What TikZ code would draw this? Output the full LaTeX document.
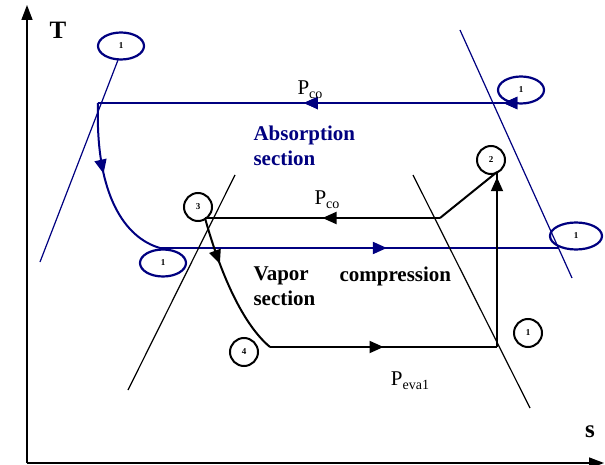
\documentclass[tikz,border=0pt]{standalone}
\usepackage{fontspec}
\setmainfont{Liberation Serif}
\usetikzlibrary{arrows.meta, decorations.markings, shapes.geometric}
\definecolor{navy}{RGB}{0,0,128}
\newcommand{\Psub}[1]{P\raisebox{-4pt}{\fontsize{14}{14}\selectfont #1}}
\tikzset{
  midarrow/.style={postaction={decorate}, decoration={markings,
    mark=at position #1 with {\arrow{Triangle[length=14pt,width=12pt]}}}},
  process/.style={line width=2pt},
  bound/.style={line width=1.2pt},
  ovalstate/.style={draw=navy, ellipse, line width=2.2pt, inner sep=0pt,
    minimum width=46pt, minimum height=27pt, font=\fontsize{9}{9}\selectfont\bfseries},
  roundstate/.style={draw, circle, line width=2pt, inner sep=0pt,
    minimum size=28pt, font=\fontsize{9}{9}\selectfont\bfseries},
  bigtext/.style={font=\fontsize{21}{25}\selectfont\bfseries, align=left, anchor=west},
  plabel/.style={font=\fontsize{21}{21}\selectfont}
}
\begin{document}
\begin{tikzpicture}[x=1pt,y=-1pt]
  \useasboundingbox (0,0) rectangle (605,465);
  % axes
  \draw[line width=1.5pt, -{Triangle[length=15pt,width=11pt]}] (27,463) -- (27,5);
  \draw[line width=1.5pt, -{Triangle[length=15pt,width=11pt]}] (27,463) -- (604,463);
  \node[font=\fontsize{25}{25}\selectfont\bfseries] (tlab) at (58,30) {T};
  \node[font=\fontsize{25}{25}\selectfont\bfseries] (slab) at (590,432) {s};
  % absorption cycle
  \coordinate (a1) at (98,103);
  \coordinate (a2) at (518,103);
  \coordinate (a3) at (160,248);
  \coordinate (a4) at (558,248);
  \draw[navy, bound] (40,262) -- (118,60);
  \draw[navy, bound] (460,30) -- (572,278);
  \draw[navy, process, midarrow=0.035, midarrow=0.51] (a2) -- (a1);
  \draw[navy, process, midarrow=0.42] (a1) .. controls (95,195) and (125,238) .. (a3);
  \draw[navy, process, midarrow=0.57] (a3) -- (a4);
  \node[ovalstate] (o1) at (121,46) {1};
  \node[ovalstate] (o2) at (521,90) {1};
  \node[ovalstate] (o3) at (163,263) {1};
  \node[ovalstate, minimum width=52pt] (o4) at (576,236) {1};
  \node[plabel] (pco1) at (310,90) {\Psub{co}};
  \node[bigtext, navy] (abs) at (250,146) {Absorption\\section};
  % vapor compression cycle
  \coordinate (b1) at (497,347);
  \coordinate (b2) at (497,172);
  \coordinate (b3) at (205,218);
  \coordinate (b4) at (270,347);
  \coordinate (bk) at (440,218);
  \draw[bound] (128,390) -- (235,175);
  \draw[bound] (413,175) -- (530,408);
  \draw[process, midarrow=0.97] (b1) -- (b2);
  \draw[process] (b2) -- (bk);
  \draw[process, midarrow=0.5] (bk) -- (b3);
  \draw[process, midarrow=0.33] (b3) .. controls (218,265) and (240,322) .. (b4);
  \draw[process, midarrow=0.5] (b4) -- (b1);
  \node[roundstate] (c3) at (198,207) {3};
  \node[roundstate] (c2) at (491,160) {2};
  \node[roundstate] (c4) at (244,352) {4};
  \node[roundstate] (c1) at (528,333) {1};
  \node[plabel] (pco2) at (327,200) {\Psub{co}};
  \node[plabel] (peva) at (410,381) {\Psub{eva1}};
  \node[bigtext] (vap) at (250,286) {Vapor\\section};
  \node[bigtext] (comp) at (336,276) {compression};
\end{tikzpicture}
\end{document}
